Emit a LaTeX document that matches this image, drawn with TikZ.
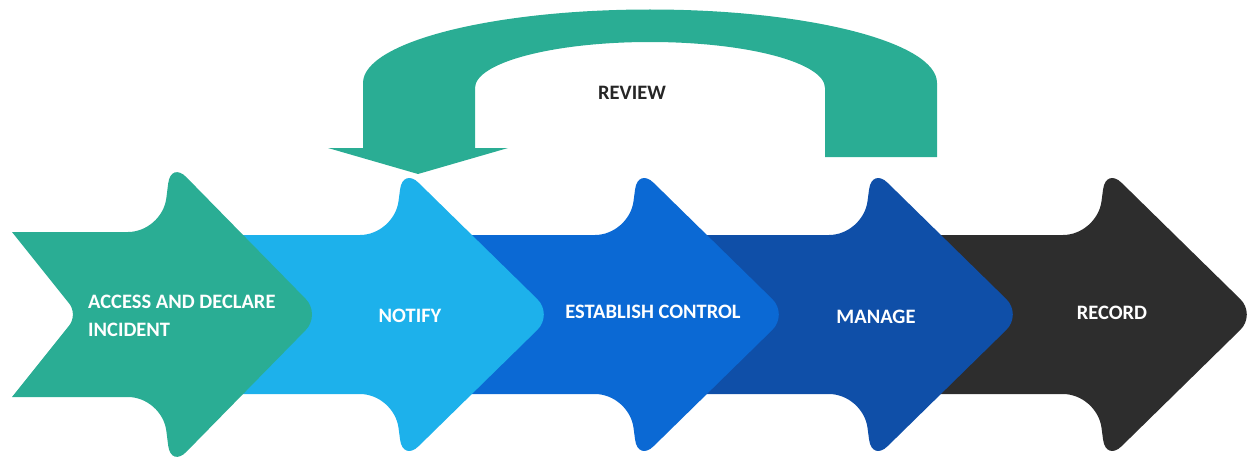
\documentclass[tikz,border=0pt]{standalone}
\usepackage{fontspec}
\setmainfont{Carlito}
\definecolor{cgreen}{HTML}{2AAD94}
\definecolor{clight}{HTML}{1DB1EB}
\definecolor{cblue}{HTML}{0B69D4}
\definecolor{cdark}{HTML}{0F4FA8}
\definecolor{cblack}{HTML}{2D2D2D}
\definecolor{ctext}{HTML}{262626}
% #1 tip x, #2 left x, #3 body half height, #4 head half height, #5 colour, #6 notch depth
\newcommand{\flowarrow}[6]{%
  \fill[#5] (#2+20,314.5-#3)
    [rounded corners=34] -- (#1-153,314.5-#3)
    [rounded corners=22] -- (#1-144,314.5-#4-8)
    [rounded corners=22] -- (#1+6,314.5)
    [rounded corners=22] -- (#1-144,314.5+#4+8)
    [rounded corners=34] -- (#1-153,314.5+#3)
    [sharp corners] -- (#2,314.5+#3)
    [rounded corners=14] -- (#2+#6,314.5)
    [sharp corners] -- (#2,314.5-#3)
    -- cycle;}
\tikzset{
  lbl/.style={text=white, font=\fontsize{20.5}{28}\selectfont\bfseries, inner sep=0pt},
}
\begin{document}
\begin{tikzpicture}[x=1pt,y=-1pt]
\useasboundingbox (0,0) rectangle (1247,460);
\flowarrow{1250}{900}{79.5}{139}{cblack}{0}
\flowarrow{1016}{670}{79.5}{139}{cdark}{0}
\flowarrow{782}{430}{79.5}{139}{cblue}{0}
\flowarrow{547}{200}{79.5}{139}{clight}{0}
\flowarrow{315}{12}{82.5}{145}{cgreen}{66}
% review loop
\fill[cgreen] (363,148) -- (363,83) .. controls (363,42.4) and (491.5,9.5) .. (650,9.5)
  .. controls (808.5,9.5) and (937,42.4) .. (937,83) -- (937,157) -- (825,157) -- (825,88)
  .. controls (825,62.6) and (746.7,42) .. (650,42) .. controls (553.3,42) and (475,62.6) .. (475,88)
  -- (475,148) -- (508,148) -- (418,174) -- (328,148) -- cycle;
\node[lbl, anchor=west, align=left] (access) at (88,316) {ACCESS AND DECLARE\\INCIDENT};
\node[lbl] (notify) at (410,316) {NOTIFY};
\node[lbl] (establish) at (653,312) {ESTABLISH CONTROL};
\node[lbl] (manage) at (876,317) {MANAGE};
\node[lbl] (record) at (1112,313) {RECORD};
\node[lbl, text=ctext] (review) at (632,93) {REVIEW};
\end{tikzpicture}
\end{document}
